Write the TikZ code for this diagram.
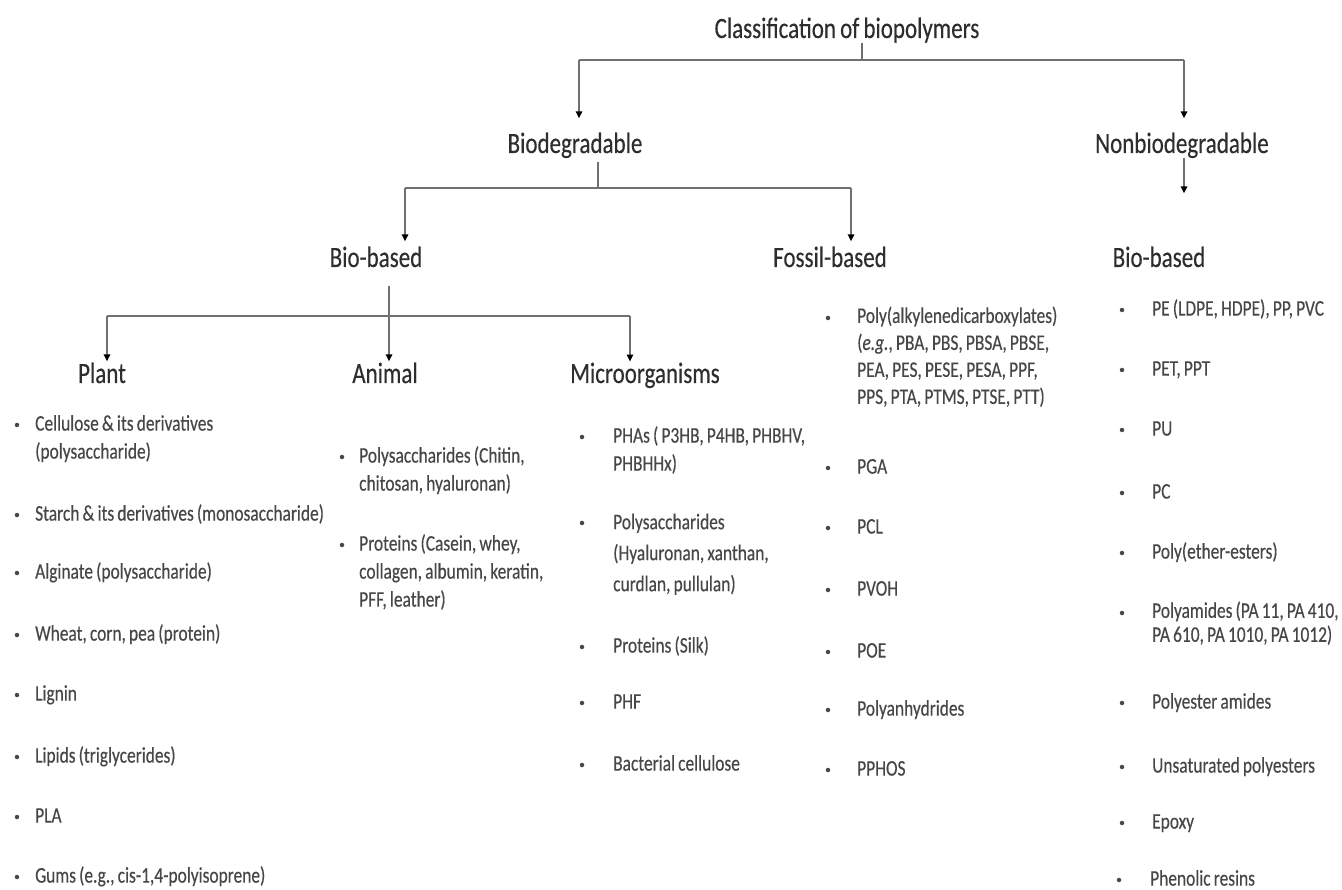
\documentclass[tikz,border=0pt]{standalone}
\usepackage{fontspec}
\setmainfont{Carlito}[FakeStretch=0.78,WordSpace=0.8,FakeBold=0.3]
\usetikzlibrary{arrows.meta}
\definecolor{headc}{HTML}{2E2E2E}
\definecolor{bodyc}{HTML}{474747}
\definecolor{linec}{HTML}{707070}
\tikzset{
  head/.style={font=\fontsize{29.5}{32}\selectfont, text=headc, inner sep=0pt, anchor=base},
  btxt/.style={font=\fontsize{22.3}{28}\selectfont, text=bodyc, inner sep=0pt, anchor=west, align=left},
  bdot/.style={circle, fill=bodyc, inner sep=0pt, minimum size=4.5pt},
  link/.style={draw=linec, line width=1.5pt},
  arr/.style={link, -{Triangle[length=7pt,width=6.5pt,color=black]}},
}
\newcommand\blt[7][]{%
  \node[bdot] (#2-b) at (#3,#5) {};
  \node[btxt,#1] (#2) at (#4,#6) {\strut #7\strut};}
\begin{document}
\begin{tikzpicture}[x=1pt,y=-1pt]
\useasboundingbox (0,0) rectangle (1342,890);
\fill[white] (0,0) rectangle (1342,890);

% headings
\node[head] (t)    at (847,38)  {Classification of biopolymers};
\node[head] (bio)  at (575,153) {Biodegradable};
\node[head] (nbio) at (1182,153) {Nonbiodegradable};
\node[head] (bb)   at (376,267) {Bio-based};
\node[head] (fb)   at (830,267) {Fossil-based};
\node[head] (nbb)  at (1159,267) {Bio-based};
\node[head] (pl)   at (102,383) {Plant};
\node[head] (an)   at (385,383) {Animal};
\node[head] (mi)   at (645,383) {Microorganisms};

% connectors
\coordinate (j0)  at (862,60);
\coordinate (j0l) at (579,60);
\coordinate (j0r) at (1184,60);
\draw[link] (t.south -| j0) -- (j0);
\draw[link] (j0l) -- (j0r);
\draw[arr, shorten >=14pt] (j0l) -- (j0l |- bio.north);
\draw[arr, shorten >=14pt] (j0r) -- (j0r |- nbio.north);
\draw[arr, shorten >=53pt] (nbio.south -| j0r) -- (j0r |- nbb.north);

\coordinate (j1)  at (598,188);
\coordinate (j1l) at (405,188);
\coordinate (j1r) at (851,188);
\draw[link, shorten <=4pt] (bio.south -| j1) -- (j1);
\draw[link] (j1l) -- (j1r);
\draw[arr, shorten >=5pt] (j1l) -- (j1l |- bb.north);
\draw[arr, shorten >=5pt] (j1r) -- (j1r |- fb.north);

\coordinate (j2)  at (389,316);
\coordinate (j2l) at (107,316);
\coordinate (j2r) at (630,316);
\draw[link] (j2l) -- (j2r);
\draw[arr, shorten <=19pt, shorten >=1pt] (bb.south -| j2) -- (j2 |- an.north);
\draw[arr, shorten >=1pt] (j2l) -- (j2l |- pl.north);
\draw[arr, shorten >=1pt] (j2r) -- (j2r |- mi.north);

% Plant
\blt{c1}{17}{35}{425}{439}{Cellulose \& its derivatives\\(polysaccharide)}
\blt{c2}{17}{35}{515}{515}{Starch \& its derivatives (monosaccharide)}
\blt{c3}{17}{35}{573}{573}{Alginate (polysaccharide)}
\blt{c4}{17}{35}{635}{635}{Wheat, corn, pea (protein)}
\blt{c5}{17}{35}{695}{695}{Lignin}
\blt{c6}{17}{35}{757}{757}{Lipids (triglycerides)}
\blt{c7}{17}{35}{817}{817}{PLA}
\blt{c8}{17}{35}{877}{877}{Gums (e.g., cis-1,4-polyisoprene)}

% Animal
\blt{a1}{342}{359}{457}{471}{Polysaccharides (Chitin,\\chitosan, hyaluronan)}
\blt{a2}{342}{359}{545}{573}{Proteins (Casein, whey,\\collagen, albumin, keratin,\\PFF, leather)}

% Microorganisms
\blt{m1}{582}{613}{437}{451}{PHAs ( P3HB, P4HB, PHBHV,\\PHBHHx)}
\blt[font=\fontsize{22.3}{31}\selectfont]{m2}{582}{613}{523}{554}{Polysaccharides\\(Hyaluronan, xanthan,\\curdlan, pullulan)}
\blt{m3}{582}{613}{647}{647}{Proteins (Silk)}
\blt{m4}{582}{613}{703}{703}{PHF}
\blt{m5}{582}{613}{765}{765}{Bacterial cellulose}

% Fossil-based
\blt[font=\fontsize{22.3}{27}\selectfont]{f1}{828}{857}{318}{358}{Poly(alkylenedicarboxylates)\\(\textit{e.g.}, PBA, PBS, PBSA, PBSE,\\PEA, PES, PESE, PESA, PPF,\\PPS, PTA, PTMS, PTSE, PTT)}
\blt{f2}{828}{857}{468}{468}{PGA}
\blt{f3}{828}{857}{528}{528}{PCL}
\blt{f4}{828}{857}{590}{590}{PVOH}
\blt{f5}{828}{857}{652}{652}{POE}
\blt{f6}{828}{857}{710}{710}{Polyanhydrides}
\blt{f7}{828}{857}{770}{770}{PPHOS}

% Nonbiodegradable bio-based
\blt{n1}{1122}{1152}{310}{310}{PE (LDPE, HDPE), PP, PVC}
\blt{n2}{1122}{1152}{370}{370}{PET, PPT}
\blt{n3}{1122}{1152}{430}{430}{PU}
\blt{n4}{1122}{1152}{493}{493}{PC}
\blt{n5}{1122}{1152}{553}{553}{Poly(ether-esters)}
\blt[font=\fontsize{22.3}{24}\selectfont]{n6}{1122}{1152}{613}{625}{Polyamides (PA 11, PA 410,\\PA 610, PA 1010, PA 1012)}
\blt{n7}{1122}{1152}{703}{703}{Polyester amides}
\blt{n8}{1122}{1152}{767}{767}{Unsaturated polyesters}
\blt{n9}{1122}{1152}{823}{823}{Epoxy}
\blt{n10}{1119}{1150}{880}{880}{Phenolic resins}
\end{tikzpicture}
\end{document}
